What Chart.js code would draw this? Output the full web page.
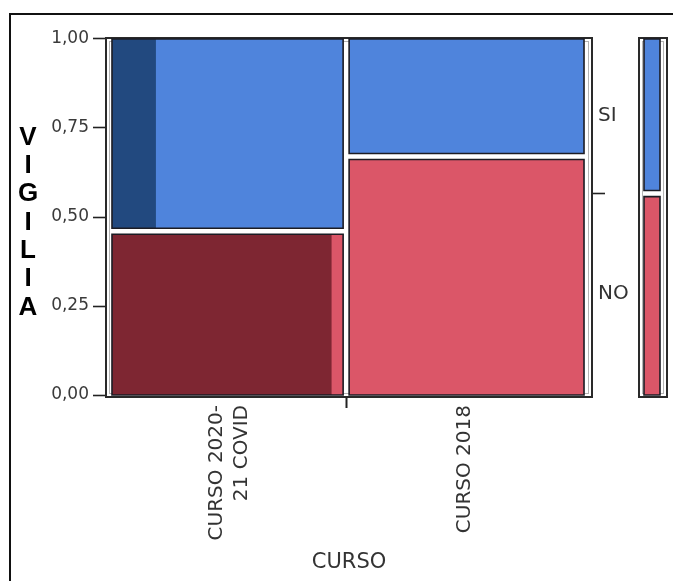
<!DOCTYPE html>
<html>
<head>
<meta charset="utf-8">
<title>VIGILIA por CURSO</title>
<script src="https://cdn.jsdelivr.net/npm/chart.js@4.4.1/dist/chart.umd.min.js"></script>
<style>
  html, body { margin: 0; padding: 0; background: #fff; }
  #page { position: relative; width: 673px; height: 581px; overflow: hidden; }
  #outer { position: absolute; left: 9px; top: 13px; width: 700px; height: 600px;
           border-left: 2px solid #111; border-top: 2px solid #111; }
  #main { position: absolute; left: 0; top: 0; }
  #margin { position: absolute; left: 630px; top: 0; }
</style>
</head>
<body>
<div id="page">
  <div id="outer"></div>
  <canvas id="main" width="673" height="581"></canvas>
  <canvas id="margin" width="43" height="581"></canvas>
</div>
<script>
// ---- data -------------------------------------------------------------
const categories   = ['CURSO 2020-21 COVID', 'CURSO 2018'];
const xTickLabels  = [['CURSO 2020-', '21 COVID'], 'CURSO 2018'];
const columnShare  = [0.496, 0.504];          // width of each CURSO column
const levels       = ['NO', 'SI'];            // VIGILIA levels, bottom to top
const noShare      = [0.46, 0.67];            // share of NO inside each column
const selectedNo   = [0.95, 0];               // highlighted part of the NO cell
const selectedSi   = [0.19, 0];               // highlighted part of the SI cell
const yTickValues  = [0, 0.25, 0.5, 0.75, 1];
const yTickLabels  = ['0,00', '0,25', '0,50', '0,75', '1,00'];
const yTitle       = 'VIGILIA';
const xTitle       = 'CURSO';

// ---- styling / layout -------------------------------------------------
const COLORS = {
  NO: { light: '#DB5668', dark: '#7E2632' },
  SI: { light: '#4F84DC', dark: '#22497F' }
};
const EDGE = '#1c1c24';
const CELL_GAP_X = 0.0127;
const CELL_GAP_Y = 0.017;
const Y_MIN = -0.0056, Y_MAX = 1.0028;
const X_MIN = -0.0127, X_MAX = 1.0169;
const LEFT_AXIS_W = 106, RIGHT_AXIS_W = 81, CANVAS_W = 673;
const PLOT_W = CANVAS_W - LEFT_AXIS_W - RIGHT_AXIS_W;
const X_LABEL_SIZE = 20, X_LABEL_LH = 1.25;

Chart.defaults.font.family = '"DejaVu Sans", sans-serif';
Chart.defaults.color = '#333';

// rectangle in data space, drawn as a closed line shape
function rect(x0, x1, y0, y1, extra) {
  return Object.assign({
    type: 'line',
    data: [{x: x0, y: y0}, {x: x1, y: y0}, {x: x1, y: y1}, {x: x0, y: y1}, {x: x0, y: y0}],
    showLine: true, pointRadius: 0, tension: 0,
    borderJoinStyle: 'miter', borderCapStyle: 'square'
  }, extra);
}
function cellLayers(x0, x1, y0, y1, color, selected) {
  const out = [rect(x0, x1, y0, y1, {
    fill: 'shape', backgroundColor: color.light, borderColor: 'rgba(0,0,0,0)', borderWidth: 1, order: 3
  })];
  if (selected > 0) {
    out.push(rect(x0, x0 + (x1 - x0) * selected, y0, y1, {
      fill: 'shape', backgroundColor: color.dark, borderColor: 'rgba(0,0,0,0)', borderWidth: 1, order: 2
    }));
  }
  out.push(rect(x0, x1, y0, y1, { fill: false, borderColor: EDGE, borderWidth: 1.6, order: 1 }));
  return out;
}

// column boundaries
const colStart = [], colEnd = [];
let acc = 0;
columnShare.forEach((w) => { colStart.push(acc); acc += w; colEnd.push(acc); });
const colCenter = colStart.map((s, i) => (s + colEnd[i]) / 2);
const boundaries = colEnd.slice(0, -1);

// marginal NO share over all rows
const marginNo = columnShare.reduce((s, w, i) => s + w * noShare[i], 0);

const mainSets = [];
columnShare.forEach((w, i) => {
  const x0 = colStart[i] + (i > 0 ? CELL_GAP_X / 2 : 0);
  const x1 = colEnd[i] - (i < columnShare.length - 1 ? CELL_GAP_X / 2 : 0);
  mainSets.push(...cellLayers(x0, x1, 0, noShare[i] - CELL_GAP_Y / 2, COLORS.NO, selectedNo[i]));
  mainSets.push(...cellLayers(x0, x1, noShare[i] + CELL_GAP_Y / 2, 1, COLORS.SI, selectedSi[i]));
});

const marginSets = [
  ...cellLayers(0, 1, 0, marginNo - CELL_GAP_Y / 2, COLORS.NO, 0),
  ...cellLayers(0, 1, marginNo + CELL_GAP_Y / 2, 1, COLORS.SI, 0)
];

// panel frame: dark outer line with a light inner line
const framePlugin = {
  id: 'panelFrame',
  beforeDatasetsDraw(chart) {
    const a = chart.chartArea, ctx = chart.ctx;
    ctx.save();
    ctx.strokeStyle = '#b4b4b4'; ctx.lineWidth = 1;
    ctx.strokeRect(a.left + 3.5, a.top + 3.5, a.width - 7, a.height - 7);
    ctx.strokeStyle = '#2a2a2a'; ctx.lineWidth = 2;
    ctx.strokeRect(a.left, a.top, a.width, a.height);
    ctx.restore();
  }
};

// vertical, letter-stacked y title
const stackedTitle = {
  id: 'stackedTitle',
  afterDraw(chart) {
    const a = chart.chartArea, ctx = chart.ctx;
    const letters = yTitle.split('');
    const step = 28.3;
    const mid = (a.top + a.bottom) / 2 + 5;
    ctx.save();
    ctx.font = 'bold 26px "Liberation Sans", Arial, sans-serif';
    ctx.fillStyle = '#000';
    ctx.textAlign = 'center';
    ctx.textBaseline = 'middle';
    letters.forEach((ch, i) => {
      ctx.fillText(ch, 28, mid + (i - (letters.length - 1) / 2) * step);
    });
    ctx.restore();
  }
};

// rotated multi-line labels start at the tick; centre the block on the column
const unitsPerPx = (X_MAX - X_MIN) / PLOT_W;
function labelAnchor(center, label) {
  const lines = Array.isArray(label) ? label.length : 1;
  return center - (lines - 1) * X_LABEL_SIZE * X_LABEL_LH / 2 * unitsPerPx;
}

const yRight = [marginNo / 2, marginNo, (marginNo + 1) / 2];
const yRightLabels = [levels[0], '', levels[1]];
const xTicks = [labelAnchor(colCenter[0], xTickLabels[0]), ...boundaries, labelAnchor(colCenter[1], xTickLabels[1])];
const xLabels = [xTickLabels[0], ...boundaries.map(() => ''), xTickLabels[1]];

new Chart(document.getElementById('main'), {
  type: 'line',
  data: { datasets: mainSets },
  plugins: [framePlugin, stackedTitle],
  options: {
    responsive: false, animation: false, events: [],
    layout: { padding: { top: 38, left: 0, right: 0, bottom: 0 } },
    plugins: { legend: { display: false }, tooltip: { enabled: false } },
    scales: {
      x: {
        type: 'linear', min: X_MIN, max: X_MAX,
        afterBuildTicks: s => { s.ticks = xTicks.map(v => ({ value: v })); },
        afterFit: s => { s.height = 184; },
        border: { display: false },
        grid: {
          drawOnChartArea: false, drawTicks: true, tickLength: 11, tickWidth: 2,
          tickColor: c => (c.index === 1 ? '#222' : 'rgba(0,0,0,0)')
        },
        ticks: {
          autoSkip: false, minRotation: 90, maxRotation: 90, padding: -3,
          color: '#333', font: { size: X_LABEL_SIZE, lineHeight: X_LABEL_LH },
          callback: (v, i) => xLabels[i]
        },
        title: { display: true, text: xTitle, color: '#333', font: { size: 21 }, padding: { top: 0, bottom: 6 } }
      },
      y: {
        type: 'linear', min: Y_MIN, max: Y_MAX,
        afterBuildTicks: s => { s.ticks = yTickValues.map(v => ({ value: v })); },
        afterFit: s => { s.width = LEFT_AXIS_W; },
        border: { display: false },
        grid: { drawOnChartArea: false, drawTicks: true, tickLength: 13, tickWidth: 1.6, tickColor: '#222' },
        ticks: { padding: 4, color: '#3a3a3a', font: { size: 17 }, callback: (v, i) => yTickLabels[i] }
      },
      y2: {
        type: 'linear', position: 'right', min: Y_MIN, max: Y_MAX,
        afterBuildTicks: s => { s.ticks = yRight.map(v => ({ value: v })); },
        afterFit: s => { s.width = RIGHT_AXIS_W; },
        border: { display: false },
        grid: {
          drawOnChartArea: false, drawTicks: true, tickLength: 13, tickWidth: 1.6,
          tickColor: c => (c.index === 1 ? '#222' : 'rgba(0,0,0,0)')
        },
        ticks: { padding: -7, color: '#333', font: { size: 20 }, callback: (v, i) => yRightLabels[i] }
      }
    }
  }
});

new Chart(document.getElementById('margin'), {
  type: 'line',
  data: { datasets: marginSets },
  plugins: [framePlugin],
  options: {
    responsive: false, animation: false, events: [],
    layout: { padding: { top: 38, left: 9, right: 6, bottom: 184 } },
    plugins: { legend: { display: false }, tooltip: { enabled: false } },
    scales: {
      x: { type: 'linear', display: false, min: -0.3125, max: 1.4375 },
      y: { type: 'linear', display: false, min: Y_MIN, max: Y_MAX }
    }
  }
});
</script>
</body>
</html>
